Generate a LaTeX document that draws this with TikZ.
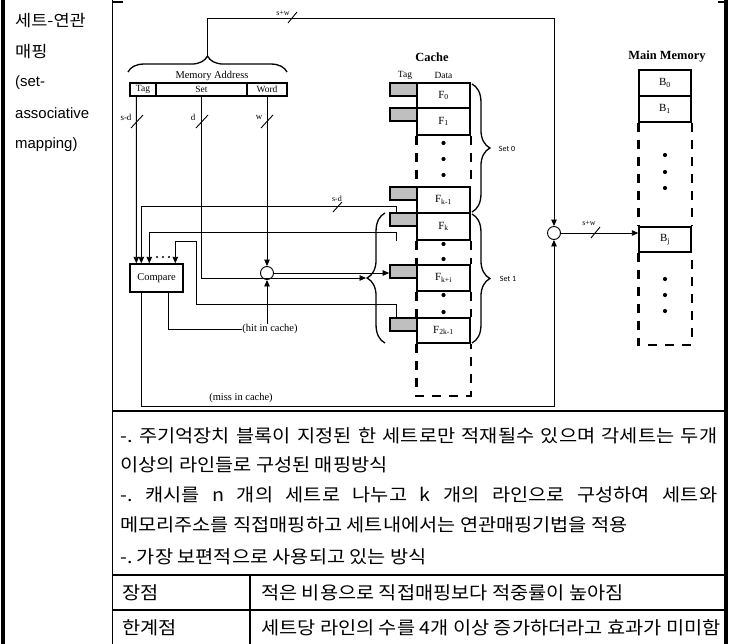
\documentclass[tikz,border=0pt]{standalone}
\usepackage{fontspec}
\setmainfont{Liberation Serif}
\newfontfamily\kr[FakeStretch=1.1]{Noto Sans CJK KR}
\newfontfamily\krlat{Liberation Sans}
\newfontfamily\carl{Carlito}
\usetikzlibrary{arrows.meta,decorations.pathreplacing,calc}
\begin{document}
\frenchspacing
\begin{tikzpicture}[x=1bp,y=-1bp,
  conn/.style={line width=0.9bp},
  arr/.style={conn,-{Triangle[length=6.5bp,width=5.5bp]}},
  bx/.style={draw,line width=1.4bp,inner sep=0pt},
  cell/.style={bx,minimum width=53bp,font=\fontsize{11}{12}\selectfont},
  mcell/.style={bx,minimum width=52bp,font=\fontsize{11}{12}\selectfont},
  tg/.style={draw,line width=1.6bp,fill=black!25,inner sep=0pt,minimum width=27bp,minimum height=13bp},
  dsh/.style={line width=2.4bp,dash pattern=on 9bp off 8bp},
  dt/.style={circle,fill,inner sep=0pt,minimum size=4.2bp},
  sdt/.style={circle,fill,inner sep=0pt,minimum size=2.4bp},
  lbl/.style={inner sep=0pt,font=\fontsize{9}{10}\selectfont},
  krt/.style={inner sep=0pt,anchor=base west,font=\kr\frenchspacing\fontsize{18}{20}\selectfont},
  krh/.style={inner sep=0pt,anchor=base west,font=\kr\fontsize{16}{20}\selectfont},
  lath/.style={inner sep=0pt,anchor=base west,font=\krlat\fontsize{15}{20}\selectfont},
  tbl/.style={line width=1.2bp},
  brc/.style={line width=1.3bp,decorate,decoration={brace,amplitude=#1}},
]
\useasboundingbox (0,0) rectangle (732,644);
% ---------- table ----------
\draw[line width=4bp] (3,0) -- (3,644);
\draw[line width=4bp] (726,0) -- (726,644);
\draw[tbl] (112.5,0) -- (112.5,644);
\draw[tbl] (112.5,411) -- (726,411);
\draw[tbl] (112.5,575) -- (726,575);
\draw[tbl] (112.5,610) -- (726,610);
\draw[tbl] (250,575) -- (250,644);
\draw[tbl] (112.5,2) -- (123,2);
\draw[tbl] (718,2) -- (726,2);
% left column
\node[krh] (h1) at (15,27) {세트-연관};
\node[krh] (h2) at (15,58) {매핑};
\node[lath] (h3) at (15,87) {(set-};
\node[lath] (h4) at (15,119) {associative};
\node[lath] (h5) at (15,149) {mapping)};
% description rows
\node[krt] (t1) at (120,442) {\makebox[597bp][s]{-. 주기억장치 블록이 지정된 한 세트로만 적재될수 있으며 각세트는 두개}};
\node[krt] (t2) at (120,471) {이상의 라인들로 구성된 매핑방식};
\node[krt] (t3) at (120,501) {\makebox[597bp][s]{-. 캐시를 n 개의 세트로 나누고 k 개의 라인으로 구성하여 세트와}};
\node[krt] (t4) at (120,531) {메모리주소를 직접매핑하고 세트내에서는 연관매핑기법을 적용};
\node[krt] (t5) at (120,563) {-. 가장 보편적으로 사용되고 있는 방식};
\node[krt] (p1) at (122,599) {장점};
\node[krt] (p2) at (261,599) {적은 비용으로 직접매핑보다 적중률이 높아짐};
\node[krt] (q1) at (122,634) {한계점};
\node[krt] (q2) at (261,634) {세트당 라인의 수를 4개 이상 증가하더라고 효과가 미미함};
% ---------- memory address ----------
\node[bx,minimum width=26bp,minimum height=13bp,font=\fontsize{9.5}{10}\selectfont] (tagf) at (143,89.5) {Tag};
\node[bx,minimum width=91bp,minimum height=13bp,font=\fontsize{9.5}{10}\selectfont] (setf) at (201.5,89.5) {Set};
\node[bx,minimum width=40bp,minimum height=13bp,font=\fontsize{9.5}{10}\selectfont] (wordf) at (267,89.5) {Word};
\node[inner sep=0pt,font=\fontsize{10.5}{11}\selectfont] (madr) at (212,76) {Memory Address};
\draw[brc=16] (128,72) -- (287,72);
\coordinate (btip) at (207.5,57);
% ---------- compare & circles ----------
\node[bx,minimum width=53bp,minimum height=28bp,font=\fontsize{10.5}{11}\selectfont] (cmp) at (156.5,278) {Compare};
\node[circle,draw,line width=0.9bp,minimum size=13bp,inner sep=0pt] (c1) at (267,273) {};
\node[circle,draw,line width=0.9bp,minimum size=13bp,inner sep=0pt] (c2) at (554,233) {};
% ---------- cache ----------
\node[font=\bfseries\fontsize{12.5}{13}\selectfont,inner sep=0pt] (cachet) at (432,57) {Cache};
\node[font=\fontsize{9.5}{10}\selectfont,inner sep=0pt] (tagh) at (405,75) {Tag};
\node[font=\fontsize{9.5}{10}\selectfont,inner sep=0pt] (datah) at (443.5,75) {Data};
\node[tg] (tg0) at (403.5,89.5) {};
\node[tg] (tg1) at (403.5,114.5) {};
\node[tg] (tgk1) at (403.5,193.5) {};
\node[tg] (tgk) at (403.5,219.5) {};
\node[tg] (tgki) at (403.5,271.5) {};
\node[tg] (tg2k) at (403.5,324.5) {};
\node[cell,minimum height=25bp] (f0) at (443.5,95.5) {F\textsubscript{0}};
\node[cell,minimum height=27bp] (f1) at (443.5,121.5) {F\textsubscript{1}};
\node[cell,minimum height=26bp] (fk1) at (443.5,200) {F\textsubscript{k-1}};
\node[cell,minimum height=27bp] (fk) at (443.5,226.5) {F\textsubscript{k}};
\node[cell,minimum height=26bp] (fki) at (443.5,278) {F\textsubscript{k+i}};
\node[cell,minimum height=25bp] (f2k) at (443.5,330.5) {F\textsubscript{2k-1}};
\draw[dsh] (f1.south west) -- (fk1.north west);
\draw[dsh] (f1.south east) -- (fk1.north east);
\draw[dsh] (fk.south west) -- (fki.north west);
\draw[dsh] (fk.south east) -- (fki.north east);
\draw[dsh] (fki.south west) -- (f2k.north west);
\draw[dsh] (fki.south east) -- (f2k.north east);
\draw[dsh] (f2k.south west) -- ++(0,52) -| (f2k.south east);
\foreach \yy in {143,159,175,244,259,295,312} \node[dt] at (443.5,\yy) {};
\draw[brc=18] (472,84) -- (472,212);
\draw[brc=18] (472,214) -- (472,343);
\draw[brc=18] (385,343) -- (385,213);
\node[font=\carl\fontsize{8}{9}\selectfont,inner sep=0pt] (s0) at (507,149) {Set 0};
\node[font=\carl\fontsize{8}{9}\selectfont,inner sep=0pt] (s1) at (508,279) {Set 1};
\coordinate (lbtip) at (366,278);
% ---------- main memory ----------
\node[font=\bfseries\fontsize{12.5}{13}\selectfont,inner sep=0pt] (mmt) at (667,57) {Main Memory};
\node[mcell,minimum height=26bp] (b0) at (665,83) {B\textsubscript{0}};
\node[mcell,minimum height=26bp] (b1) at (665,109) {B\textsubscript{1}};
\node[mcell,minimum height=25bp] (bj) at (665,239.5) {B\textsubscript{j}};
\draw[dsh] (b1.south west) -- (bj.north west);
\draw[dsh] (b1.south east) -- (bj.north east);
\draw[dsh] (bj.south west) -- ++(0,92) -| (bj.south east);
\foreach \yy in {155,172,188,279,295,311} \node[dt] at (665,\yy) {};
% ---------- connectors ----------
\coordinate (topc) at (554,18);
\draw[arr] (btip) |- (topc) -- (c2.north);
\node[lbl,font=\fontsize{8}{9}\selectfont] (sw1) at (283,13) {s+w};
\draw[conn] (288,23) -- (297,12);
% tag line
\draw[arr] ($(tagf.south west)+(7,0)$) -- ($(cmp.north west)+(7,0)$);
\node[lbl] (lsd) at (126,117) {s-d};
\draw[conn] (131,128) -- (143,115);
% set line
\draw[arr] ($(setf.south west)+(46,0)$) |- (lbtip);
\node[lbl] (ld) at (193,117) {d};
\draw[conn] (196,128) -- (208,115);
% word line
\draw[arr] (wordf.south) -- (c1.north);
\node[lbl] (lw) at (259,117) {w};
\draw[conn] (261,128) -- (273,115);
\draw[arr] (c1.east) -- (c1.east -| tgki.west);
% tag comparison lines
\draw[arr] ($(tgk.north west)+(7,0)$) -- ++(0,-6) -| ($(cmp.north west)+(12,0)$);
\node[lbl,font=\fontsize{8}{9}\selectfont] (lsd2) at (337,199) {s-d};
\draw[conn] (333,212) -- (342,202);
\draw[arr] ($(fk.south west)+(-20,0)$) -- ++(0,-8) -| ($(cmp.north west)+(20,0)$);
\coordinate (cA) at (196,304);
\coordinate (cB) at (196,241);
\draw[arr] ($(tg2k.north west)+(7,0)$) |- (cA) -- (cB) -| ($(cmp.north west)+(46,0)$);
\foreach \xx in {157,163,169} \node[sdt] at (\xx,257) {};
% hit / miss
\node[inner sep=0pt,font=\fontsize{10.5}{11}\selectfont] (hit) at (270,329) {(hit in cache)};
\draw[conn] ($(cmp.south west)+(39,0)$) |- (hit.west);
\draw[arr] (c1.south |- hit.north) -- (c1.south);
\coordinate (missc) at (554,406);
\draw[arr] ($(cmp.south west)+(12,0)$) |- (missc) -- (c2.south);
\node[inner sep=0pt,font=\fontsize{10.5}{11}\selectfont] (miss) at (241,398) {(miss in cache)};
% to main memory
\draw[arr] (c2.east) -- (c2.east -| bj.west);
\node[lbl,font=\fontsize{8}{9}\selectfont] (sw2) at (589,223) {s+w};
\draw[conn] (591,238) -- (600,227);
\end{tikzpicture}
\end{document}
